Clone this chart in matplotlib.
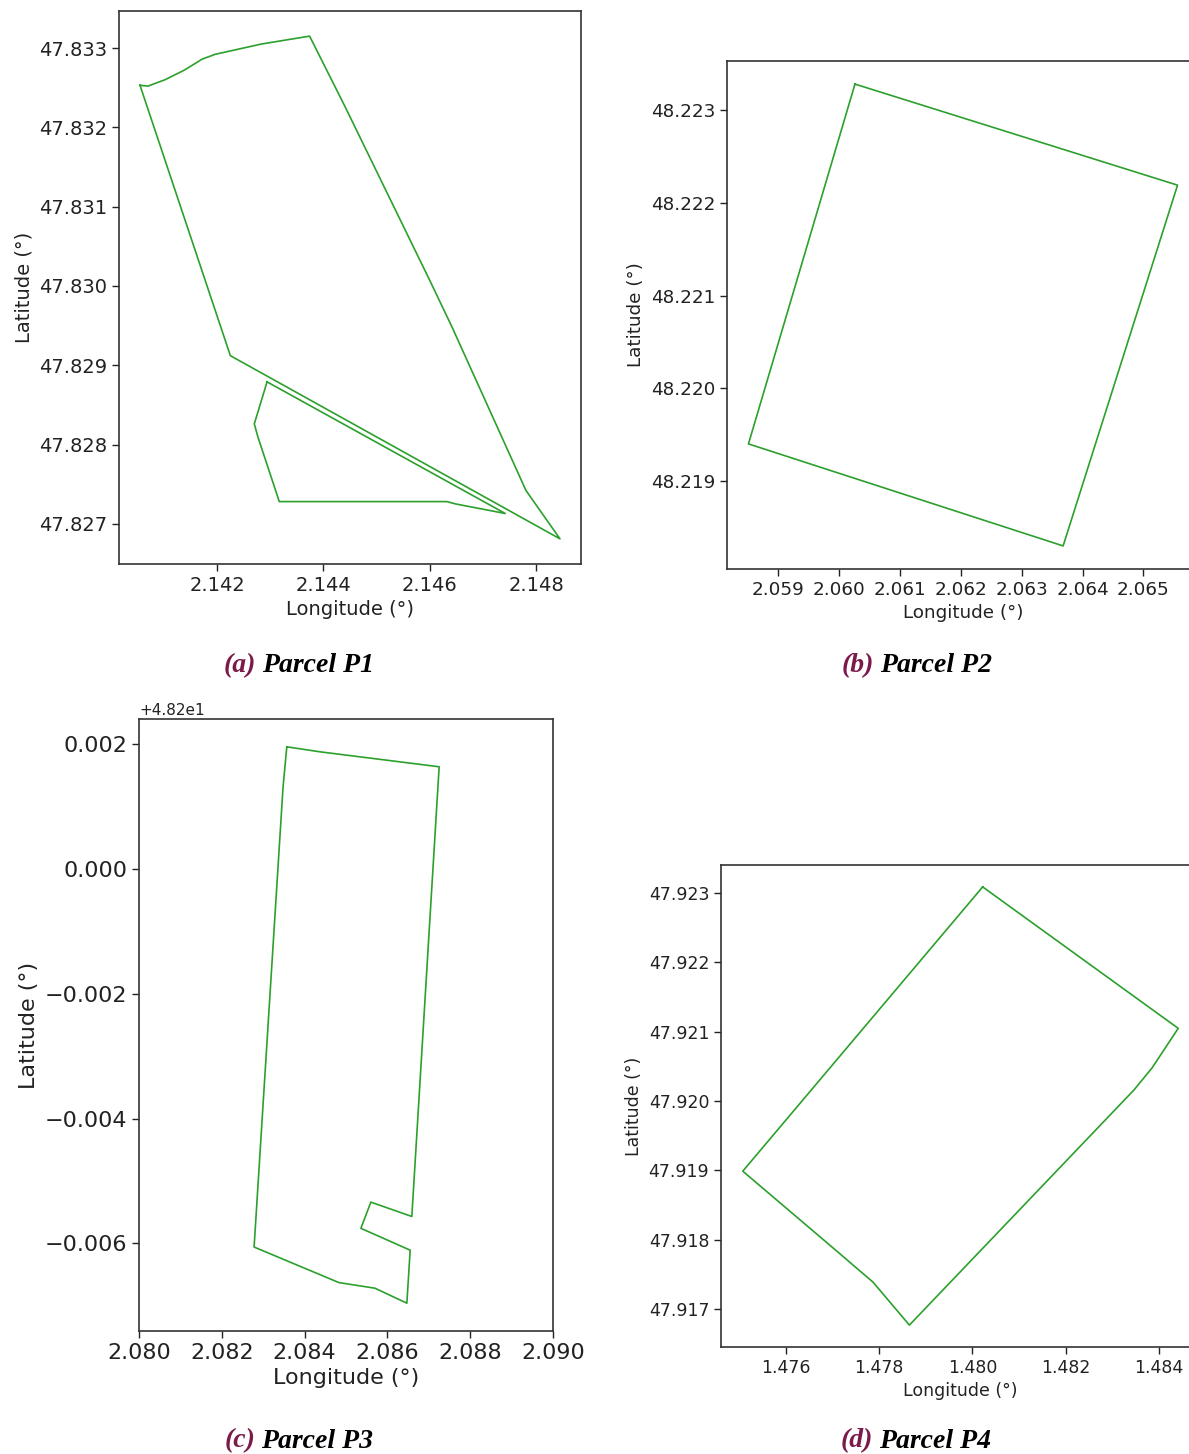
import matplotlib
matplotlib.use("Agg")
import matplotlib.pyplot as plt

W, H = 1189, 1454

# Parcel P1 (two rings)
p1_outer_lon = [2.14055, 2.14070, 2.14102, 2.14138, 2.14172, 2.14196, 2.14283, 2.14374,
                2.14440, 2.14600, 2.14642, 2.14781, 2.14845, 2.14225, 2.14055]
p1_outer_lat = [47.83253, 47.83252, 47.83260, 47.83272, 47.83286, 47.83292, 47.83305, 47.83315,
                47.83227, 47.83007, 47.82948, 47.82742, 47.82681, 47.82912, 47.83253]
p1_inner_lon = [2.14294, 2.14742, 2.14649, 2.14632, 2.14317, 2.14277, 2.14270, 2.14294]
p1_inner_lat = [47.82879, 47.82713, 47.82725, 47.82728, 47.82728, 47.82809, 47.82826, 47.82879]

# Parcel P2
p2_lon = [2.06026, 2.06556, 2.06368, 2.05851, 2.06026]
p2_lat = [48.22328, 48.22219, 48.21830, 48.21940, 48.22328]

# Parcel P3
p3_lon = [2.08357, 2.08437, 2.08725, 2.08659, 2.08560, 2.08536, 2.08655, 2.08647,
          2.08570, 2.08483, 2.08278, 2.08348, 2.08357]
p3_lat = [48.20196, 48.20188, 48.20164, 48.19443, 48.19466, 48.19424, 48.19389, 48.19304,
          48.19328, 48.19337, 48.19394, 48.20132, 48.20196]

# Parcel P4
p4_lon = [1.48022, 1.48441, 1.48385, 1.48346, 1.47865, 1.47787, 1.47695, 1.47508, 1.48022]
p4_lat = [47.92309, 47.92105, 47.92048, 47.92016, 47.91677, 47.91739, 47.91792, 47.91899, 47.92309]

LINE = "#2ca02c"
CAP_COLOR = "#7b1a4b"


def px_axes(fig, left, top, right, bottom):
    return fig.add_axes([left / W, 1 - bottom / H, (right - left) / W, (bottom - top) / H])


def style(ax, fs):
    ax.tick_params(labelsize=fs, colors="#222222", width=1.0, length=5)
    for s in ax.spines.values():
        s.set_color("#333333")
        s.set_linewidth(1.2)
    ax.set_xlabel("Longitude (°)", fontsize=fs, color="#222222")
    ax.set_ylabel("Latitude (°)", fontsize=fs, color="#222222")


def caption(fig, x, y, letter, text):
    # x is the gap between the coloured letter and the title
    kw = dict(fontsize=20, fontweight="bold", fontstyle="italic",
              family="Liberation Serif", va="center")
    fig.text((x - 3) / W, 1 - y / H, f"({letter})", color=CAP_COLOR, ha="right", **kw)
    fig.text((x + 3) / W, 1 - y / H, text, color="black", ha="left", **kw)


fig = plt.figure(figsize=(W / 100, H / 100), dpi=100)

# (a)
ax = px_axes(fig, 119, 11, 581, 564)
ax.plot(p1_outer_lon, p1_outer_lat, color=LINE, lw=1.2)
ax.plot(p1_inner_lon, p1_inner_lat, color=LINE, lw=1.2)
ax.set_xticks([2.142, 2.144, 2.146, 2.148])
style(ax, 14)

# (b)
ax = px_axes(fig, 727, 61, 1199, 569)
ax.plot(p2_lon, p2_lat, color=LINE, lw=1.2)
style(ax, 13.2)

# (c)
ax = px_axes(fig, 139, 719, 553, 1331)
ax.plot(p3_lon, p3_lat, color=LINE, lw=1.2)
ax.set_xlim(2.080, 2.090)
ax.set_yticks([48.202, 48.200, 48.198, 48.196, 48.194])
style(ax, 16)
ax.yaxis.get_offset_text().set_fontsize(11)

# (d)
ax = px_axes(fig, 721, 865, 1200, 1347)
ax.plot(p4_lon, p4_lat, color=LINE, lw=1.2)
ax.set_xticks([1.476, 1.478, 1.480, 1.482, 1.484])
style(ax, 12.5)

caption(fig, 259, 666, "a", "Parcel P1")
caption(fig, 877, 666, "b", "Parcel P2")
caption(fig, 258, 1441, "c", "Parcel P3")
caption(fig, 876, 1441, "d", "Parcel P4")

fig.savefig("out.png", dpi=100, facecolor="white")
